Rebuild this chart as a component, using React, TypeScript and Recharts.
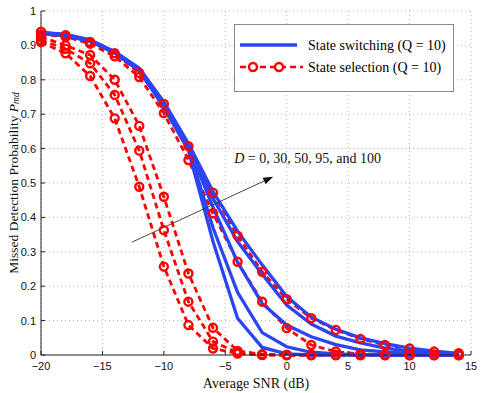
import React from "react";
import {
  LineChart,
  Line,
  XAxis,
  YAxis,
  CartesianGrid,
  ReferenceLine,
  Label,
} from "recharts";

// average SNR (dB)
const snr = [-20, -18, -16, -14, -12, -10, -8, -6, -4, -2, 0, 2, 4, 6, 8, 10, 12, 14];

// state switching, D = 0, 30, 50, 95, 100
const sw0 = [0.935, 0.928, 0.912, 0.878, 0.826, 0.72, 0.595, 0.33, 0.107, 0.022, 0.003, 0, 0, 0, 0, 0, 0, 0];
const sw30 = [0.935, 0.929, 0.913, 0.879, 0.828, 0.725, 0.6, 0.37, 0.182, 0.065, 0.024, 0.008, 0.003, 0.001, 0, 0, 0, 0];
const sw50 = [0.936, 0.93, 0.914, 0.88, 0.83, 0.73, 0.605, 0.43, 0.27, 0.15, 0.087, 0.053, 0.03, 0.015, 0.009, 0.005, 0.002, 0.001];
const sw95 = [0.937, 0.931, 0.915, 0.881, 0.832, 0.733, 0.61, 0.455, 0.33, 0.235, 0.145, 0.09, 0.055, 0.035, 0.02, 0.011, 0.006, 0.003];
const sw100 = [0.938, 0.932, 0.916, 0.882, 0.834, 0.736, 0.615, 0.475, 0.36, 0.262, 0.17, 0.11, 0.075, 0.05, 0.033, 0.02, 0.011, 0.005];

// state selection, D = 0, 30, 50, 95, 100
const sel0 = [0.91, 0.877, 0.811, 0.688, 0.489, 0.257, 0.087, 0.019, 0.004, 0, 0, 0, 0, 0, 0, 0, 0, 0];
const sel30 = [0.915, 0.89, 0.848, 0.756, 0.594, 0.363, 0.155, 0.039, 0.007, 0.001, 0, 0, 0, 0, 0, 0, 0, 0];
const sel50 = [0.925, 0.9, 0.872, 0.8, 0.666, 0.46, 0.237, 0.079, 0.012, 0.002, 0, 0, 0, 0, 0, 0, 0, 0];
const sel95 = [0.932, 0.925, 0.905, 0.868, 0.808, 0.703, 0.567, 0.412, 0.271, 0.155, 0.078, 0.029, 0.01, 0.003, 0.001, 0, 0, 0];
const sel100 = [0.94, 0.93, 0.91, 0.877, 0.82, 0.73, 0.607, 0.472, 0.347, 0.242, 0.162, 0.107, 0.073, 0.047, 0.029, 0.019, 0.01, 0.005];

const xTicks = [-20, -15, -10, -5, 0, 5, 10, 15];
const yTicks = [0, 0.1, 0.2, 0.3, 0.4, 0.5, 0.6, 0.7, 0.8, 0.9, 1];

const legendLabels = ["State switching (Q = 10)", "State selection (Q = 10)"];
const annotation = "= 0, 30, 50, 95, and 100";
// arrow start / end in data units
const arrowFrom = { x: -12.6, y: 0.328 };
const arrowTo = { x: -1.1, y: 0.518 };

const switching = [sw0, sw30, sw50, sw95, sw100];
const selection = [sel0, sel30, sel50, sel95, sel100];

const data = snr.map((s, i) => {
  const row: Record<string, number> = { snr: s };
  switching.forEach((arr, k) => (row["sw" + k] = arr[i]));
  selection.forEach((arr, k) => (row["sel" + k] = arr[i]));
  return row;
});

const BLUE = "#2b45f2";
const RED = "#ff0000";
const SERIF = "'Liberation Serif', 'Times New Roman', serif";
const SANS = "'Liberation Sans', Arial, sans-serif";

const fmt = (v: number) => String(v).replace("-", "\u2212");

function Ring(props: any) {
  const { cx, cy } = props;
  if (cx == null || cy == null) return null;
  return <circle cx={cx} cy={cy} r={4} fill="none" stroke={RED} strokeWidth={2.4} />;
}

function ArrowShape(props: any) {
  const { x1, y1, x2, y2 } = props;
  const ang = Math.atan2(y2 - y1, x2 - x1);
  const len = 10;
  const w = 3.5;
  const bx = x2 - len * Math.cos(ang);
  const by = y2 - len * Math.sin(ang);
  const px = -Math.sin(ang) * w;
  const py = Math.cos(ang) * w;
  return (
    <g>
      <line x1={x1} y1={y1} x2={bx} y2={by} stroke="#333" strokeWidth={0.9} />
      <polygon points={`${x2},${y2} ${bx + px},${by + py} ${bx - px},${by - py}`} fill="#111" />
      <text x={x2 - 39} y={y2 - 14} fontFamily={SERIF} fontSize={14} fill="#111">
        <tspan fontStyle="italic">D</tspan> {annotation}
      </text>
    </g>
  );
}

function LegendBox() {
  return (
    <div
      style={{
        position: "absolute",
        left: 234,
        top: 24,
        width: 220,
        height: 68,
        border: "1px solid #888",
        background: "#fff",
        boxSizing: "border-box",
        fontFamily: SERIF,
        fontSize: 14,
        color: "#111",
      }}
    >
      <svg width={218} height={66} style={{ position: "absolute", left: 0, top: 0 }}>
        <line x1={5} y1={20} x2={62} y2={20} stroke={BLUE} strokeWidth={3.5} />
        <line x1={5} y1={42} x2={68} y2={42} stroke={RED} strokeWidth={2.4} strokeDasharray="6 4" />
        <circle cx={18} cy={42} r={4} fill="#fff" stroke={RED} strokeWidth={2.4} />
        <circle cx={44} cy={42} r={4} fill="#fff" stroke={RED} strokeWidth={2.4} />
        <text x={73} y={25}>{legendLabels[0]}</text>
        <text x={73} y={47}>{legendLabels[1]}</text>
      </svg>
    </div>
  );
}

export default function App() {
  return (
    <div style={{ position: "fixed", left: 0, top: 0, width: 485, height: 393, background: "#fff" }}>
      <LineChart
        width={485}
        height={393}
        data={data}
        margin={{ top: 11, right: 14, left: 0, bottom: 0 }}
      >
        <CartesianGrid stroke="#b5b5b5" strokeDasharray="1 3" />
        <XAxis
          dataKey="snr"
          type="number"
          domain={[-20, 15]}
          ticks={xTicks}
          tickFormatter={fmt}
          height={38}
          stroke="#222"
          tickSize={-4}
          tickMargin={11}
          tick={{ fill: "#111", fontSize: 11, fontFamily: SANS }}
        >
          <Label
            content={(p: any) => (
              <text
                x={p.viewBox.x + p.viewBox.width / 2}
                y={388}
                textAnchor="middle"
                fontFamily={SERIF}
                fontSize={14}
                fill="#111"
              >
                Average SNR (dB)
              </text>
            )}
          />
        </XAxis>
        <YAxis
          type="number"
          domain={[0, 1]}
          ticks={yTicks}
          width={41}
          stroke="#222"
          tickSize={-4}
          tickMargin={9}
          tick={{ fill: "#111", fontSize: 11, fontFamily: SANS }}
        >
          <Label
            content={(p: any) => {
              const cx = 13;
              const cy = p.viewBox.y + p.viewBox.height / 2;
              return (
                <text
                  x={cx}
                  y={cy}
                  transform={`rotate(-90, ${cx}, ${cy})`}
                  textAnchor="middle"
                  dominantBaseline="central"
                  fontFamily={SERIF}
                  fontSize={13.5}
                  fill="#111"
                >
                  Missed Detection Probability <tspan fontStyle="italic">P</tspan>
                  <tspan fontStyle="italic" fontSize={9.5} dy={3}>
                    md
                  </tspan>
                </text>
              );
            }}
          />
        </YAxis>
        {selection.map((_, k) => (
          <Line
            key={"sel" + k}
            type="linear"
            dataKey={"sel" + k}
            stroke={RED}
            strokeWidth={2.8}
            strokeDasharray="6 4"
            dot={<Ring />}
            activeDot={false}
            isAnimationActive={false}
          />
        ))}
        {switching.map((_, k) => (
          <Line
            key={"sw" + k}
            type="linear"
            dataKey={"sw" + k}
            stroke={BLUE}
            strokeWidth={3.3}
            dot={false}
            activeDot={false}
            isAnimationActive={false}
          />
        ))}
        <ReferenceLine
          segment={[arrowFrom, arrowTo]}
          shape={(p: any) => <ArrowShape {...p} />}
          ifOverflow="visible"
        />
      </LineChart>
      <LegendBox />
    </div>
  );
}
